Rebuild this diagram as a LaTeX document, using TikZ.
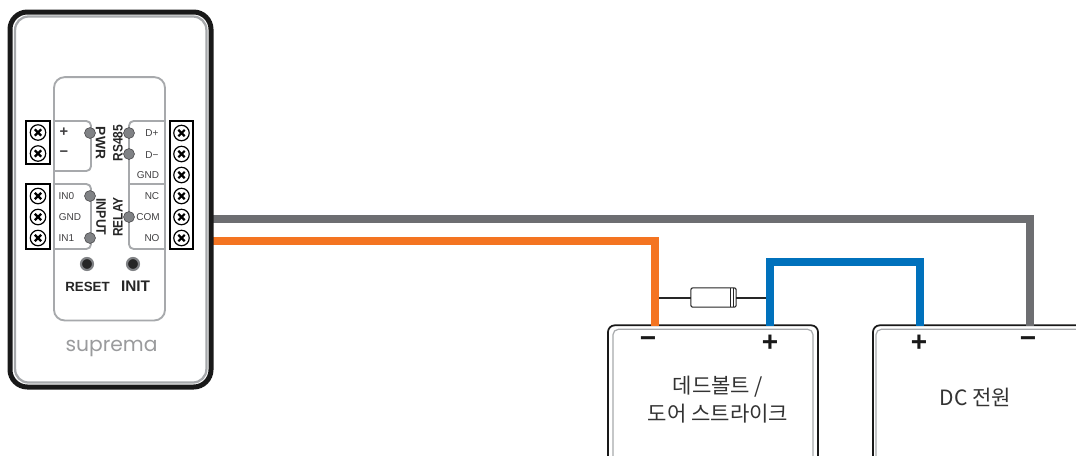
\documentclass[tikz,border=0pt]{standalone}
\usepackage{fontspec}
\setmainfont{Liberation Sans}
\newfontfamily\krfont{Noto Sans CJK KR}
\newfontfamily\logofont{Poppins}
\usetikzlibrary{shapes}
\definecolor{wiregray}{HTML}{6D6E71}
\definecolor{wireorange}{HTML}{F47421}
\definecolor{wireblue}{HTML}{0071BC}
\definecolor{panelgray}{HTML}{A7A9AC}
\definecolor{padgray}{HTML}{808285}
\definecolor{labelgray}{HTML}{414042}

\begin{document}
\begin{tikzpicture}[x=.75pt,y=-.75pt,inner sep=0pt,outer sep=0pt]
\tikzstyle{every node}=[text=labelgray]
\tikzstyle{outerbox}=[draw=black!90,rounded corners=5pt,line width=1.3pt,fill=white,rectangle]
\tikzstyle{innerbox}=[draw=panelgray,rounded corners=4pt,line width=.9pt,rectangle]
\tikzstyle{wire}=[line width=6pt,miter limit=10]
\tikzstyle{port}=[draw=black,line width=1.5pt,rectangle,fill=white]
\tikzstyle{screw}=[circle,draw=black,line width=.9pt,minimum size=11.6pt,path picture={
	\draw[line width=1.6pt,black] ([xshift=-2.4pt,yshift=2.4pt]path picture bounding box.center) -- ([xshift=2.4pt,yshift=-2.4pt]path picture bounding box.center);
	\draw[line width=1.6pt,black] ([xshift=-2.4pt,yshift=-2.4pt]path picture bounding box.center) -- ([xshift=2.4pt,yshift=2.4pt]path picture bounding box.center);
}]
\tikzstyle{pad}=[circle,draw=labelgray,fill=padgray,line width=.4pt,minimum size=8.2pt]
\tikzstyle{button}=[circle,draw=padgray,fill=black!85,line width=1.6pt,minimum size=9pt]
\tikzstyle{pinlabel}=[font=\fontsize{7.5}{8}\selectfont]
\tikzstyle{sidelabel}=[font=\fontsize{10.3}{11}\selectfont\bfseries,text=black!85]
\tikzstyle{sign}=[font=\fontsize{21}{22}\selectfont\bfseries,text=black!90]
\tikzstyle{titlelabel}=[font=\fontsize{15.8}{21}\selectfont\krfont,align=center,text=black!80]

\useasboundingbox (0,0) rectangle (1076,455);

% boxes at the end of the wires
\node[outerbox,minimum width=157.5pt,minimum height=130pt] (lockbox) at (713,412) {};
\node[innerbox,minimum width=150pt,minimum height=130pt] (lockinner) at (713,416) {};
\node[outerbox,minimum width=240pt,minimum height=130pt] (dcbox) at (1033,412) {};
\node[innerbox,minimum width=240pt,minimum height=130pt] (dcinner) at (1036,416) {};

% terminals
\coordinate (comout) at (212,219);
\coordinate (noout) at (212,241);
\coordinate (lockminus) at (655,326);
\coordinate (lockplus) at (770,326);
\coordinate (dcplus) at (920,326);
\coordinate (dcminus) at (1030,326);
\coordinate (bluetop) at (845,262);
\coordinate (diodeleft) at (655,297.5);
\coordinate (dioderight) at (770,297.5);

% diode
\node[draw=black!85,fill=white,line width=.8pt,rounded corners=1.5pt,rectangle,minimum width=34pt,minimum height=14.5pt] (diode) at (713.5,297.5) {};
\draw[line width=1.5pt,black!85] (diodeleft) -- (diode.west);
\draw[line width=1.5pt,black!85] (diode.east) -- (dioderight);
\draw[line width=.6pt,black!85] (diode.north east) ++(-4.5pt,0) -- ++(0,-14.5pt);
\draw[line width=.6pt,black!85] (diode.north east) ++(-2.4pt,0) -- ++(0,-14.5pt);

% wires
\draw[wire,wiregray] (comout) -| (dcminus);
\draw[wire,wireorange] (noout) -| (lockminus);
\draw[wire,wireblue] (lockplus) |- (bluetop) -| (dcplus);

% device
\node[draw=black!90,line width=3.75pt,rounded corners=13pt,rectangle,fill=white,minimum width=150.75pt,minimum height=281.25pt] (device) at (110.5,199.5) {};
\node[draw=panelgray,line width=1.7pt,rounded corners=10pt,rectangle,minimum width=143.5pt,minimum height=274.5pt] (deviceinner) at (110.75,199.5) {};
\node[draw=panelgray,line width=1.4pt,rounded corners=8pt,rectangle,minimum width=83.25pt,minimum height=182.5pt] (panel) at (109.5,198.8) {};

% sections of the panel
\draw[panelgray,line width=1.4pt,rounded corners=3.5pt] (54,121) -- (91,121) -- (91,171) -- (54,171);
\draw[panelgray,line width=1.4pt,rounded corners=3.5pt] (54,184) -- (91,184) -- (91,249) -- (54,249);
\draw[panelgray,line width=1.4pt,rounded corners=3.5pt] (165,121) -- (129,121) -- (129,249) -- (165,249);
\draw[panelgray,line width=1.4pt] (129,184) -- (165,184);

% screw blocks
\node[port,minimum width=17.5pt,minimum height=32pt] (blockpwr) at (38,142.5) {};
\node[port,minimum width=17.5pt,minimum height=48.5pt] (blockinput) at (38,216.5) {};
\node[port,minimum width=17.5pt,minimum height=96pt] (blockright) at (181.5,185) {};

\node[screw] (screwa) at (38,132.5) {};
\node[screw] (screwb) at (38,153.5) {};
\node[screw] (screwc) at (38,196) {};
\node[screw] (screwd) at (38,217) {};
\node[screw] (screwe) at (38,238) {};
\node[screw] (screwf) at (181.5,133) {};
\node[screw] (screwg) at (181.5,154) {};
\node[screw] (screwh) at (181.5,175) {};
\node[screw] (screwi) at (181.5,196) {};
\node[screw] (screwj) at (181.5,217) {};
\node[screw] (screwk) at (181.5,238) {};

% pads
\node[pad] (padpwr) at (90,133) {};
\node[pad] (paddp) at (129,133) {};
\node[pad] (paddm) at (129,154) {};
\node[pad] (padin0) at (90,196) {};
\node[pad] (padin1) at (90,238) {};
\node[pad] (padcom) at (129,217) {};

% pin labels
\node[pinlabel] (lblplus) at (64,132) {\fontsize{11}{11}\selectfont\bfseries +};
\node[pinlabel] (lblminus) at (64,154) {\fontsize{11}{11}\selectfont\bfseries −};
\node[pinlabel] (lbldp) at (152,133) {D+};
\node[pinlabel] (lbldm) at (152,155) {D−};
\node[pinlabel] (lblgnd) at (148,175) {GND};
\node[pinlabel] (lblnc) at (152,196) {NC};
\node[pinlabel] (lblcom) at (148,217) {COM};
\node[pinlabel] (lblno) at (152,238) {NO};
\node[pinlabel] (lblin0) at (66.5,196) {IN0};
\node[pinlabel] (lblgndb) at (70,217) {GND};
\node[pinlabel] (lblin1) at (66.5,238) {IN1};

\node[sidelabel,rotate=-90] (lblpwr) at (100.5,143) {PWR};
\node[sidelabel,rotate=90,xscale=.87] (lblrs) at (118,143) {RS485};
\node[sidelabel,rotate=-90,xscale=.9] (lblinput) at (101,217) {INPUT};
\node[sidelabel,rotate=90,xscale=.87] (lblrelay) at (118,217) {RELAY};

% buttons
\node[button] (btnreset) at (87,264) {};
\node[button] (btninit) at (133,264) {};
\node[font=\fontsize{10}{11}\selectfont\bfseries,text=black!85] (lblreset) at (87.5,286.5) {RESET};
\node[font=\fontsize{11.5}{11}\selectfont\bfseries,text=black!85] (lblinit) at (135.5,286.5) {INIT};

\node[font=\fontsize{15.2}{16}\selectfont\logofont,text=padgray!80] (logo) at (111.5,348) {suprema};

% box labels
\node[sign] (lockm) at (648,342) {−};
\node[sign] (lockp) at (770,343) {+};
\node[sign] (dcp) at (919,343) {+};
\node[sign] (dcm) at (1028,342) {−};
\node[titlelabel] (locklabel) at (718,400) {데드볼트 /\\도어 스트라이크};
\node[titlelabel] (dclabel) at (975.5,397) {DC 전원};

\end{tikzpicture}
\end{document}
